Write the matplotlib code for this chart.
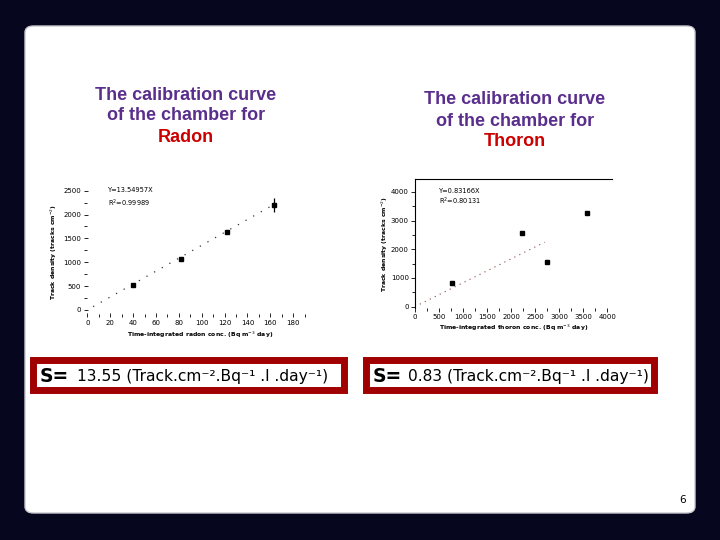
import matplotlib
matplotlib.use("Agg")
import matplotlib.pyplot as plt
from matplotlib.patches import FancyBboxPatch, Rectangle
import numpy as np

# radon calibration data
radon_x = [40, 82, 122, 163]
radon_y = [520, 1070, 1640, 2200]
radon_err = [0, 0, 0, 150]
radon_slope = 13.54957
radon_fit_x = [5, 162]
radon_xticks = [0, 20, 40, 60, 80, 100, 120, 140, 160, 180]
radon_yticks = [0, 500, 1000, 1500, 2000, 2500]

# thoron calibration data
thoron_x = [770, 2230, 2750, 3580]
thoron_y = [810, 2560, 1545, 3260]
thoron_slope = 0.83166
thoron_fit_x = [100, 2700]
thoron_xticks = [0, 500, 1000, 1500, 2000, 2500, 3000, 3500, 4000]
thoron_yticks = [0, 1000, 2000, 3000, 4000]

navy = "#06061f"
purple = "#5a2e8c"
red = "#cc0000"
boxred = "#a00000"

W, H = 720, 540
fig = plt.figure(figsize=(7.2, 5.4), dpi=100)
fig.patch.set_facecolor(navy)

def fx(px):
    return px / W

def fy(py):
    return 1 - py / H

# white slide panel
panel = FancyBboxPatch((fx(25), fy(513)), fx(670), 487 / H,
                       boxstyle="round,pad=0,rounding_size=0.012",
                       transform=fig.transFigure, facecolor="white",
                       edgecolor="#c8c8d0", linewidth=1.0, zorder=-5)
fig.patches.append(panel)

title_font = dict(family="Liberation Sans", fontweight="bold", fontsize=13,
                  ha="center", va="center")
for cx, y0, word in [(186, 95, "Radon"), (515, 100, "Thoron")]:
    fig.text(fx(cx), fy(y0), "The calibration curve", color=purple, **title_font)
    fig.text(fx(cx), fy(y0 + 21), "of the chamber for", color=purple, **title_font)
    fig.text(fx(cx), fy(y0 + 42), word, color=red, **title_font)

lab_kw = dict(fontsize=4.4, fontweight="bold")

# ---- radon axes
ax1 = fig.add_axes([fx(84), fy(317), fx(232), 131 / H], zorder=2)
ax1.set_facecolor("none")
for s in ax1.spines.values():
    s.set_visible(False)
ax1.set_xlim(-3, 200)
ax1.set_ylim(-150, 2600)
xx = np.array(radon_fit_x)
ax1.plot(xx, radon_slope * xx, linestyle=(0, (1, 6)), color="#333333", lw=0.9)
ax1.errorbar(radon_x, radon_y, yerr=radon_err, fmt="s", color="black",
             ms=3.5, elinewidth=0.9, capsize=0)
ax1.set_xticks(radon_xticks)
ax1.set_xticks([10, 30, 50, 70, 90, 110, 130, 150, 170, 190], minor=True)
ax1.set_yticks(radon_yticks)
ax1.set_yticks([250, 750, 1250, 1750, 2250], minor=True)
ax1.tick_params(axis="both", labelsize=5, length=3, width=0.6, direction="in", pad=2)
ax1.tick_params(which="minor", length=2, width=0.6, direction="in")
ax1.set_xlabel("Time-integrated radon conc. (Bq m$^{-3}$ day)", labelpad=3, **lab_kw)
ax1.set_ylabel("Track density (tracks cm$^{-2}$)", labelpad=3, **lab_kw)
ax1.text(18, 2480, "Y=13.54957X", fontsize=4.8)
ax1.text(18, 2170, "R$^2$=0.99989", fontsize=4.8)

# ---- thoron axes
ax2 = fig.add_axes([fx(415), fy(308), fx(197), 129 / H], zorder=2)
ax2.set_facecolor("none")
ax2.spines["right"].set_visible(False)
ax2.spines["bottom"].set_visible(False)
for s in ["top", "left"]:
    ax2.spines[s].set_linewidth(0.8)
ax2.set_xlim(0, 4100)
ax2.set_ylim(-50, 4450)
tx = np.array(thoron_fit_x)
ax2.plot(tx, thoron_slope * tx, linestyle=(0, (1, 4)), color="#884444", lw=0.8)
ax2.plot(thoron_x, thoron_y, "s", color="black", ms=3.5)
ax2.set_xticks(thoron_xticks)
ax2.set_xticks([250, 750, 1250, 1750, 2250, 2750, 3250, 3750], minor=True)
ax2.set_yticks(thoron_yticks)
ax2.set_yticks([500, 1500, 2500, 3500], minor=True)
ax2.tick_params(axis="both", labelsize=5, length=3, width=0.6, pad=1.5)
ax2.tick_params(which="minor", length=2, width=0.6)
ax2.set_xlabel("Time-integrated thoron conc. (Bq m$^{-3}$ day)", labelpad=2, **lab_kw)
ax2.set_ylabel("Track density (tracks cm$^{-2}$)", labelpad=0.5, **lab_kw)
ax2.text(500, 3950, "Y=0.83166X", fontsize=4.8)
ax2.text(500, 3550, "R$^2$=0.80131", fontsize=4.8)

# ---- sensitivity boxes
unit = "(Track.cm\u207b\u00b2.Bq\u207b\u00b9 .l .day\u207b\u00b9)"
for x0, x1, sx, vx, val in [(29, 347, 40, 77, "13.55"), (362, 657, 373, 408, "0.83")]:
    r = Rectangle((fx(x0 + 3.5), fy(389.5)), fx(x1 - x0 - 7), 29.5 / H,
                  transform=fig.transFigure, facecolor="white",
                  edgecolor=boxred, linewidth=5.0, zorder=1)
    fig.patches.append(r)
    fig.text(fx(sx), fy(376), "S=", fontsize=13.5, fontweight="bold",
             family="DejaVu Sans", va="center", ha="left", zorder=3)
    fig.text(fx(vx), fy(377), val + " " + unit, fontsize=11.2,
             family="DejaVu Sans", va="center", ha="left", zorder=3)

fig.text(fx(683), fy(500), "6", fontsize=7.5, ha="center", va="center")

fig.savefig("out.png", dpi=100, facecolor=navy)
